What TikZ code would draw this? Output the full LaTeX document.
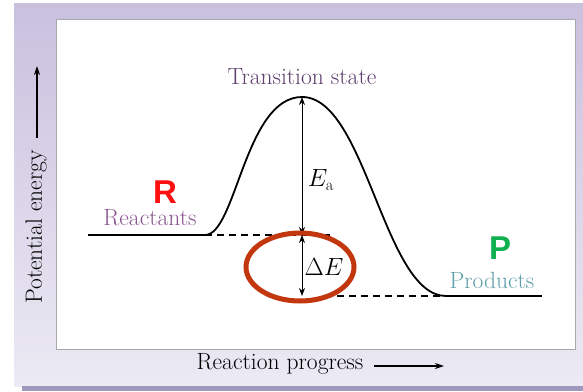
\documentclass[tikz,border=0pt]{standalone}
\usepackage{fontspec}
\newfontfamily\labsans[Scale=1]{Liberation Sans}
\usetikzlibrary{arrows.meta}
\definecolor{lavtop}{HTML}{C9C0DE}
\definecolor{lavbot}{HTML}{ECEAF4}
\definecolor{lavstrip}{HTML}{9E98BE}
\definecolor{framegray}{HTML}{A8A8B0}
\definecolor{tspurple}{HTML}{5E3F6E}
\definecolor{reacmauve}{HTML}{8A5490}
\definecolor{prodteal}{HTML}{5E9EA8}
\definecolor{redR}{HTML}{FF1010}
\definecolor{greenP}{HTML}{10B050}
\definecolor{ellred}{HTML}{C3370E}
\tikzset{
  curve/.style={line width=1.8pt, line cap=round},
  level/.style={line width=1.8pt},
  dashlevel/.style={line width=1.4pt, dash pattern=on 7pt off 5pt},
  dimarrow/.style={line width=0.8pt, {Stealth[length=8pt,width=6pt]}-{Stealth[length=8pt,width=6pt]}},
  axisarrow/.style={line width=1.3pt, -{Stealth[length=9pt,width=6pt]}},
  lab/.style={inner sep=0pt, font=\fontsize{23.5}{26}\selectfont},
  big/.style={inner sep=0pt, font=\labsans\bfseries\fontsize{33}{35}\selectfont}
}
\begin{document}
\begin{tikzpicture}[x=1pt,y=-1pt]
\useasboundingbox (0,0) rectangle (583,391);
% background panel
\fill[white] (0,0) rectangle (583,391);
\shade[top color=lavtop, bottom color=lavbot] (14,3) rectangle (583,386);
\fill[lavstrip] (22,386) rectangle (583,391);
\draw[framegray, fill=white, line width=1pt] (56,19) rectangle (575,349);

% key points
\coordinate (rs) at (88,235);
\coordinate (rb) at (205,235);
\coordinate (ts) at (302,97);
\coordinate (pb) at (446,296);
\coordinate (pe) at (542,296);
\coordinate (rl) at (302,235);
\coordinate (pl) at (302,296);
\coordinate (rde) at (330,235);
\coordinate (pds) at (325,296);

% energy curve
\draw[level] (rs) -- (rb);
\draw[curve] (rb) .. controls (236,235) and (245,97) .. (ts)
             .. controls (366,97) and (384,296) .. (pb);
\draw[level] (pb) -- (pe);
\draw[dashlevel] (rb) -- (rde);
\draw[dashlevel] (pds) -- (pb);

% dimension arrows
\draw[dimarrow] (ts) -- (rl);
\draw[dimarrow] (rl) -- (pl);

% highlight ellipse
\draw[ellred, line width=5pt] (300,267) ellipse [x radius=54, y radius=34];

% labels
\node[lab, text=tspurple] (tsl) at (302,77) {Transition state};
\node[lab, text=black] (eal) at (321,180) {$E_{\mathrm{a}}$};
\node[lab, text=black] (del) at (324,267) {$\Delta E$};
\node[lab, text=reacmauve] (rlab) at (150,218) {Reactants};
\node[lab, text=prodteal] (plab) at (492,280) {Products};
\node[big, text=redR] (R) at (165,192) {R};
\node[big, text=greenP] (P) at (500,248) {P};

% axes
\node[lab, rotate=90, text=black] (ylab) at (36,227) {Potential energy};
\coordinate (ya0) at (37,138);
\coordinate (ya1) at (37,66);
\draw[axisarrow] (ya0) -- (ya1);
\node[lab, text=black] (xlab) at (280,364) {Reaction progress};
\coordinate (xa0) at (374,366);
\coordinate (xa1) at (444,366);
\draw[axisarrow] (xa0) -- (xa1);
\end{tikzpicture}
\end{document}
